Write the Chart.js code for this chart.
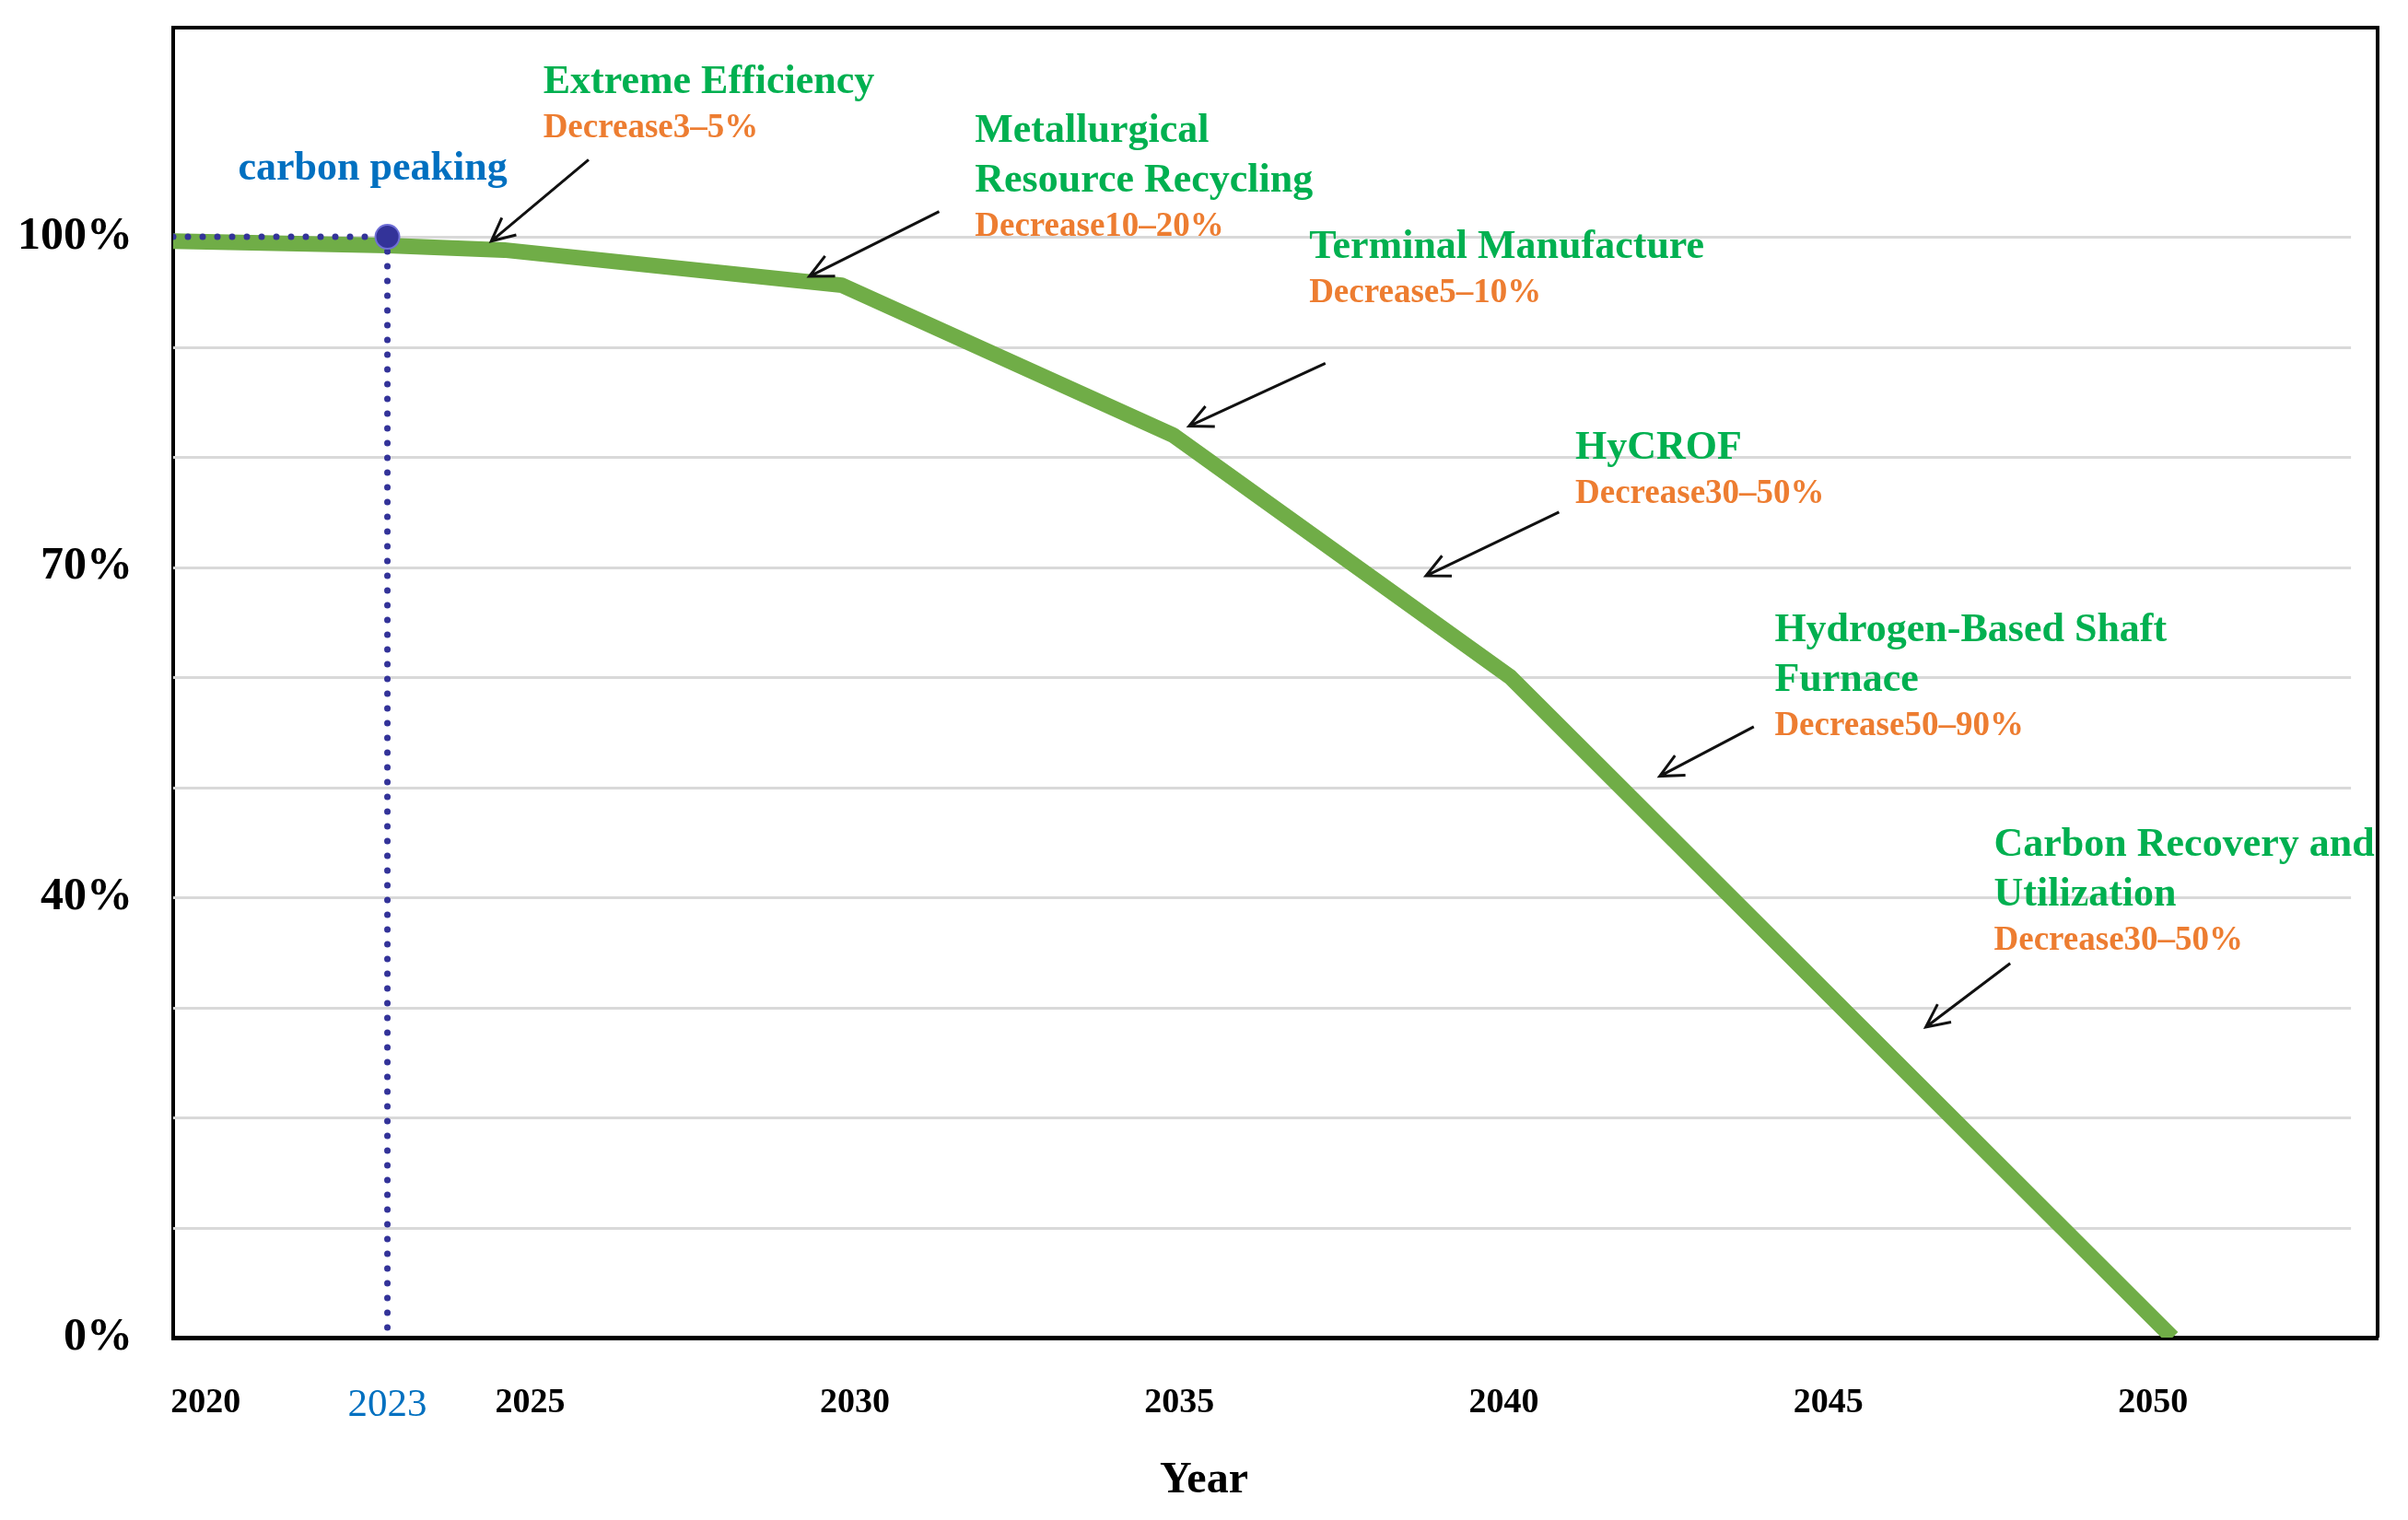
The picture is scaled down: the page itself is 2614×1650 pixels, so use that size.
<!DOCTYPE html>
<html>
<head>
<meta charset="utf-8">
<title>Carbon reduction pathway</title>
<script src="https://cdn.jsdelivr.net/npm/chart.js@4.4.1/dist/chart.umd.min.js"></script>
<style>
  html, body { margin: 0; padding: 0; background: #fff; }
  #wrap { width: 2614px; height: 1650px; }
</style>
</head>
<body>
<div id="wrap"><canvas id="chart"></canvas></div>
<script>
// values
const years = [2019.5, 2022.8, 2024.6, 2029.8, 2034.9, 2040.1, 2050.3];
const emissions = [99.6, 99.2, 98.8, 95.6, 82.0, 60.0, 0];
const peakYear = 2022.8;
const peakValue = 100;

const xTickYears = [2020, 2023, 2025, 2030, 2035, 2040, 2045, 2050];
const highlightYear = 2023;
const yGridValues = [10, 20, 30, 40, 50, 60, 70, 80, 90, 100];
const yTickValues = [0, 40, 70, 100];

const stageNames = [
    ['Extreme Efficiency'],
    ['Metallurgical', 'Resource Recycling'],
    ['Terminal Manufacture'],
    ['HyCROF'],
    ['Hydrogen-Based Shaft', 'Furnace'],
    ['Carbon Recovery and', 'Utilization'],
];
const stageCuts = ['Decrease3–5%', 'Decrease10–20%', 'Decrease5–10%', 'Decrease30–50%', 'Decrease50–90%', 'Decrease30–50%'];

// where the notes sit, in axis units (year, percent)
const noteLayout = [
    { text: [2025.2, 113.1], from: [2025.9, 107.0], to: [2024.4, 99.6] },
    { text: [2031.85, 108.6], from: [2031.3, 102.3], to: [2029.3, 96.4] },
    { text: [2037.0, 98.1], from: [2037.25, 88.5], to: [2035.15, 82.8] },
    { text: [2041.1, 79.8], from: [2040.85, 75.0], to: [2038.8, 69.2] },
    { text: [2044.17, 63.3], from: [2043.85, 55.5], to: [2042.4, 51.0] },
    { text: [2047.55, 43.8], from: [2047.8, 34.0], to: [2046.5, 28.2] },
];
const peakNote = { text: 'carbon peaking', at: [2020.5, 105.2] };

const xMin = 2019.5, xMax = 2053.46, yMax = 119;
const gridEnd = 2053.05; // gridlines stop a little short of the right frame
const serif = "'Times New Roman', 'Liberation Serif', serif";
const GREEN_TEXT = '#00b050', ORANGE = '#ed7d31', BLUE_TEXT = '#0070c0', NAVY = '#333399';

// the 2023 label sits under the peak marker, not on the exact year
const tickPos = v => (v === highlightYear ? peakYear : v);

function drawArrow(ctx, x1, y1, x2, y2) {
    const a = Math.atan2(y2 - y1, x2 - x1), h = 28, s = 0.45;
    ctx.beginPath();
    ctx.moveTo(x1, y1);
    ctx.lineTo(x2, y2);
    ctx.moveTo(x2 - h * Math.cos(a - s), y2 - h * Math.sin(a - s));
    ctx.lineTo(x2, y2);
    ctx.lineTo(x2 - h * Math.cos(a + s), y2 - h * Math.sin(a + s));
    ctx.stroke();
}

const gridPlugin = {
    id: 'shortGrid',
    beforeDatasetsDraw(chart) {
        const { ctx, chartArea, scales: { x, y } } = chart;
        ctx.save();
        ctx.strokeStyle = '#d9d9d9';
        ctx.lineWidth = 3;
        const xe = x.getPixelForValue(gridEnd);
        yGridValues.forEach(v => {
            const py = Math.round(y.getPixelForValue(v)) + 0.5;
            ctx.beginPath();
            ctx.moveTo(chartArea.left, py);
            ctx.lineTo(xe, py);
            ctx.stroke();
        });
        ctx.restore();
    }
};

const notesPlugin = {
    id: 'stageNotes',
    afterDraw(chart) {
        const { ctx, chartArea, scales: { x, y } } = chart;
        ctx.save();
        // top and right frame
        ctx.strokeStyle = '#000';
        ctx.lineWidth = 4;
        ctx.beginPath();
        ctx.moveTo(chartArea.left - 2, chartArea.top);
        ctx.lineTo(chartArea.right, chartArea.top);
        ctx.lineTo(chartArea.right, chartArea.bottom);
        ctx.stroke();

        ctx.textAlign = 'left';
        ctx.textBaseline = 'alphabetic';
        noteLayout.forEach((n, i) => {
            const tx = x.getPixelForValue(n.text[0]);
            let ty = y.getPixelForValue(n.text[1]);
            ctx.fillStyle = GREEN_TEXT;
            ctx.font = `bold 44px ${serif}`;
            stageNames[i].forEach((line, j) => {
                if (j > 0) ty += 54;
                ctx.fillText(line, tx, ty);
            });
            ctx.fillStyle = ORANGE;
            ctx.font = `bold 37px ${serif}`;
            ctx.fillText(stageCuts[i], tx, ty + 48);

            ctx.strokeStyle = '#111';
            ctx.lineWidth = 3;
            drawArrow(ctx,
                x.getPixelForValue(n.from[0]), y.getPixelForValue(n.from[1]),
                x.getPixelForValue(n.to[0]), y.getPixelForValue(n.to[1]));
        });

        ctx.fillStyle = BLUE_TEXT;
        ctx.font = `bold 44px ${serif}`;
        ctx.fillText(peakNote.text, x.getPixelForValue(peakNote.at[0]), y.getPixelForValue(peakNote.at[1]));

        // axis title, centred on the page like the original
        ctx.fillStyle = '#000';
        ctx.font = `bold 48px ${serif}`;
        ctx.textAlign = 'center';
        ctx.fillText('Year', chart.width / 2, 1620);
        ctx.restore();
    }
};

const ctx = document.getElementById('chart').getContext('2d');
new Chart(ctx, {
    type: 'line',
    data: {
        datasets: [
            {
                label: 'emissions',
                data: years.map((yr, i) => ({ x: yr, y: emissions[i] })),
                borderColor: '#70ad47',
                borderWidth: 17,
                borderJoinStyle: 'round',
                pointRadius: 0,
                tension: 0,
                order: 3,
            },
            {
                label: 'peak level',
                data: [{ x: xMin, y: peakValue }, { x: peakYear, y: peakValue }],
                borderColor: NAVY,
                borderWidth: 7,
                borderDash: [0, 16],
                borderCapStyle: 'round',
                pointRadius: 0,
                order: 2,
            },
            {
                label: 'peak year',
                data: [{ x: peakYear, y: peakValue }, { x: peakYear, y: 0 }],
                borderColor: NAVY,
                borderWidth: 7,
                borderDash: [0, 16],
                borderCapStyle: 'round',
                pointRadius: 0,
                order: 2,
            },
            {
                label: 'carbon peak',
                data: [{ x: peakYear, y: peakValue }],
                showLine: false,
                pointRadius: 13,
                pointBackgroundColor: NAVY,
                pointBorderColor: '#6f6fd6',
                pointBorderWidth: 2,
                order: 1,
            },
        ],
    },
    options: {
        responsive: true,
        maintainAspectRatio: false,
        animation: false,
        layout: { padding: { top: 30, right: 33, left: 0, bottom: 0 } },
        plugins: { legend: { display: false }, tooltip: { enabled: false } },
        scales: {
            x: {
                type: 'linear',
                min: xMin,
                max: xMax,
                afterBuildTicks: s => { s.ticks = xTickYears.map(v => ({ value: tickPos(v) })); },
                afterFit: s => {
                    s.height = 198;
                    s.paddingLeft = 0;
                    s.paddingRight = 0;
                },
                ticks: {
                    autoSkip: false,
                    maxRotation: 0,
                    padding: 48,
                    callback: v => String(v === peakYear ? highlightYear : v),
                    color: c => (c.tick && c.tick.value === peakYear ? BLUE_TEXT : '#000'),
                    font: c => (c.tick && c.tick.value === peakYear
                        ? { family: serif, size: 43, weight: 'normal' }
                        : { family: serif, size: 38, weight: 'bold' }),
                },
                grid: { display: false, drawTicks: false },
                border: { color: '#000', width: 5 },
            },
            y: {
                min: 0,
                max: yMax,
                afterBuildTicks: s => { s.ticks = yTickValues.map(v => ({ value: v })); },
                afterFit: s => {
                    s.width = 188;
                    s.paddingTop = 0;
                    s.paddingBottom = 0;
                },
                ticks: {
                    autoSkip: false,
                    padding: 44,
                    color: '#000',
                    font: { family: serif, size: 50, weight: 'bold' },
                    callback: v => v + '%',
                },
                grid: { display: false, drawTicks: false },
                border: { color: '#000', width: 4 },
            },
        },
    },
    plugins: [gridPlugin, notesPlugin],
});
</script>
</body>
</html>
